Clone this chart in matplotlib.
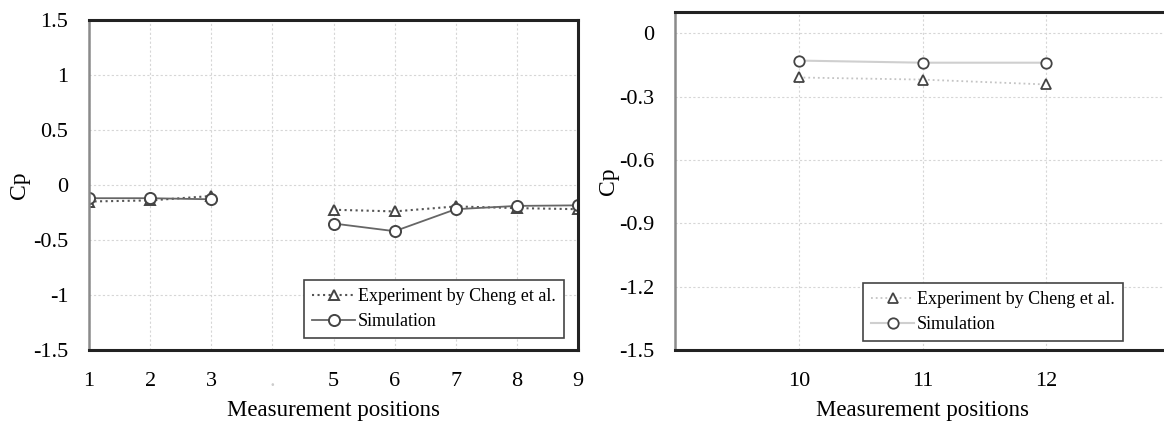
import numpy as np
import matplotlib.pyplot as plt

plt.rcParams["font.family"] = ["Liberation Serif", "DejaVu Serif"]

# ---- data ----
positions_left = [1, 2, 3, 4, 5, 6, 7, 8, 9]
tick_labels_left = ["1", "2", "3", ".", "5", "6", "7", "8", "9"]
exp_left = [-0.15, -0.14, -0.10, np.nan, -0.225, -0.24, -0.195, -0.21, -0.22]
sim_left = [-0.12, -0.12, -0.13, np.nan, -0.35, -0.42, -0.22, -0.19, -0.185]

positions_right = [10, 11, 12]
exp_right = [-0.21, -0.22, -0.243]
sim_right = [-0.13, -0.14, -0.14]

yticks_left = [1.5, 1, 0.5, 0, -0.5, -1, -1.5]
yticks_right = [0, -0.3, -0.6, -0.9, -1.2, -1.5]

fig = plt.figure(figsize=(11.64, 4.21), dpi=100)
ax1 = fig.add_axes([89 / 1164, 1 - 350 / 421, 489 / 1164, 330 / 421])
ax2 = fig.add_axes([675 / 1164, 1 - 350 / 421, 495 / 1164, 338 / 421])


def style_axes(ax):
    for side in ["top", "right", "bottom"]:
        ax.spines[side].set_color("#222222")
        ax.spines[side].set_linewidth(2.2)
    ax.spines["left"].set_color("#8a8a8a")
    ax.spines["left"].set_linewidth(1.8)
    ax.grid(True, color="#d6d6d6", linestyle=(0, (2, 2)), linewidth=0.8)
    ax.tick_params(axis="y", length=0, labelsize=16, pad=15)
    ax.tick_params(axis="x", length=0, labelsize=16, pad=16)
    ax.set_axisbelow(True)


def style_legend(leg):
    leg.get_frame().set_edgecolor("#444444")
    leg.get_frame().set_linewidth(1.2)


legend_kw = dict(loc="upper left", bbox_transform=fig.transFigure, fancybox=False,
                 fontsize=13, handlelength=2.4, handletextpad=0.15, borderpad=0.45,
                 labelspacing=0.45, framealpha=1, borderaxespad=0)

# ---- left panel ----
ax1.plot(positions_left, exp_left, linestyle=":", color="#555555", lw=1.5,
         marker="^", ms=6.5, mfc="white", mec="#444444", mew=1.4,
         label="Experiment by Cheng et al.")
ax1.plot(positions_left, sim_left, linestyle="-", color="#666666", lw=1.3,
         marker="o", ms=8, mfc="white", mec="#444444", mew=1.4,
         label="Simulation")
ax1.set_xlim(1, 9)
ax1.set_ylim(-1.5, 1.5)
ax1.set_xticks(positions_left)
ax1.set_xticklabels(tick_labels_left)
ax1.get_xticklabels()[3].set_color("#cccccc")
ax1.set_yticks(yticks_left)
ax1.set_yticklabels([f"{v:g}" for v in yticks_left])
style_axes(ax1)
ax1.set_xlabel("Measurement positions", fontsize=16.5, labelpad=6)
ax1.set_ylabel("Cp", fontsize=17, labelpad=2)
leg1 = ax1.legend(bbox_to_anchor=(304 / 1164, 1 - 280 / 421), **legend_kw)
style_legend(leg1)

# ---- right panel ----
ax2.plot(positions_right, exp_right, linestyle=":", color="#c4c4c4", lw=1.3,
         marker="^", ms=7, mfc="white", mec="#444444", mew=1.3,
         label="Experiment by Cheng et al.")
ax2.plot(positions_right, sim_right, linestyle="-", color="#cfcfcf", lw=1.5,
         marker="o", ms=7.5, mfc="white", mec="#444444", mew=1.3,
         label="Simulation")
ax2.set_xlim(9, 13)
ax2.set_ylim(-1.5, 0.1)
ax2.set_xticks(positions_right)
ax2.set_yticks(yticks_right)
ax2.set_yticklabels([f"{v:g}" for v in yticks_right])
style_axes(ax2)
ax2.set_xlabel("Measurement positions", fontsize=16.5, labelpad=6)
ax2.set_ylabel("Cp", fontsize=17, labelpad=0)
leg2 = ax2.legend(bbox_to_anchor=(863 / 1164, 1 - 283 / 421), **legend_kw)
style_legend(leg2)

fig.savefig("out.png", dpi=100)
